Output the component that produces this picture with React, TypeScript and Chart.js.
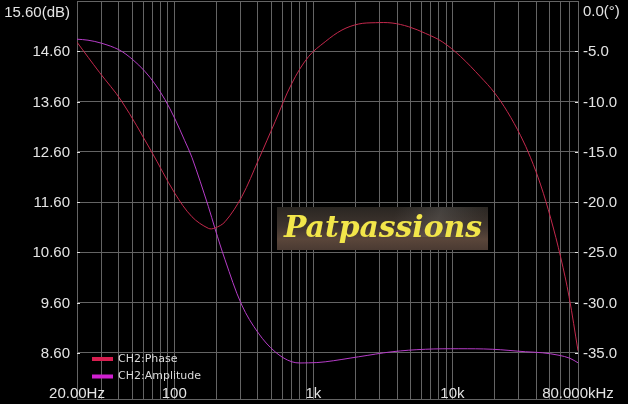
import React, { useEffect, useRef } from 'react';
import { Chart, registerables } from 'chart.js';

Chart.register(...registerables);

// ---- data ----
const ampFreq = [20, 24, 30, 40, 50, 61.5, 72.6, 85.7, 101, 119, 134, 176, 196, 232, 306, 403, 531, 701, 923, 1218, 2117, 3683, 6397, 11117, 19347, 33620, 44360, 58410, 70000, 80000];
const ampDb = [14.84, 14.82, 14.76, 14.63, 14.44, 14.2, 13.95, 13.64, 13.26, 12.82, 12.49, 11.51, 11.08, 10.45, 9.55, 8.99, 8.62, 8.42, 8.4, 8.42, 8.52, 8.62, 8.67, 8.68, 8.67, 8.62, 8.6, 8.55, 8.49, 8.4];

const phaseFreq = [20, 29, 41.8, 68.3, 101, 134, 176, 196, 232, 306, 403, 531, 701, 923, 1218, 1607, 2117, 2791, 3683, 4850, 6397, 8442, 11430, 15930, 20000, 24810, 30940, 36510, 43110, 50880, 60060, 68960, 80000];
const phaseDeg = [-4.1, -7.1, -9.95, -14.93, -19.13, -21.46, -22.62, -22.59, -21.96, -19.47, -15.82, -12.01, -8.19, -5.54, -4.05, -2.89, -2.29, -2.16, -2.19, -2.56, -3.22, -4.05, -5.51, -7.55, -9.1, -11.0, -13.4, -15.6, -18.3, -21.6, -25.5, -29.4, -34.8];

const gridFreqs = [
  20, 30, 40, 50, 60, 70, 80, 90,
  100, 200, 300, 400, 500, 600, 700, 800, 900,
  1000, 2000, 3000, 4000, 5000, 6000, 7000, 8000, 9000,
  10000, 20000, 30000, 40000, 50000, 60000, 70000, 80000,
];

const xTickValues = [20, 100, 1000, 10000, 80000];
const xTickLabels = ['20.00Hz', '100', '1k', '10k', '80.000kHz'];

const leftTickValues = [15.6, 14.6, 13.6, 12.6, 11.6, 10.6, 9.6, 8.6];
const leftTickLabels = ['15.60(dB)', '14.60', '13.60', '12.60', '11.60', '10.60', '9.60', '8.60'];

const rightTickValues = [0, -5, -10, -15, -20, -25, -30, -35];
const rightTickLabels = ['0.0(°)', '-5.0', '-10.0', '-15.0', '-20.0', '-25.0', '-30.0', '-35.0'];

const seriesNames = ['CH2:Phase', 'CH2:Amplitude'];

// ---- styles ----
const GRID = '#646464';
const TEXT = '#e4e4e4';
const PHASE_COLOR = '#c4284c';
const AMP_COLOR = '#b63cc8';
const PHASE_SWATCH = '#d81e50';
const AMP_SWATCH = '#d020d0';

const overlayPlugin = {
  id: 'overlay',
  beforeDatasetsDraw(chart: any) {
    const ctx = chart.ctx;
    ctx.save();
    // watermark box
    const bx = 277, by = 207, bw = 211, bh = 43;
    const g = ctx.createLinearGradient(0, by, 0, by + bh);
    g.addColorStop(0, '#2a2622');
    g.addColorStop(0.45, '#3e342e');
    g.addColorStop(0.75, '#5a463a');
    g.addColorStop(1, '#4a3a32');
    ctx.fillStyle = g;
    ctx.fillRect(bx, by, bw, bh);
    const g2 = ctx.createLinearGradient(bx + 120, by, bx + 200, by + 30);
    g2.addColorStop(0, 'rgba(120,120,120,0)');
    g2.addColorStop(0.5, 'rgba(140,140,140,0.25)');
    g2.addColorStop(1, 'rgba(120,120,120,0)');
    ctx.fillStyle = g2;
    ctx.fillRect(bx, by, bw, 30);
    ctx.font = 'italic bold 30px "DejaVu Serif"';
    ctx.fillStyle = '#f2e64a';
    ctx.textAlign = 'left';
    ctx.textBaseline = 'alphabetic';
    ctx.fillText('Patpassions', 284, 237, 198);
    ctx.restore();
  },
  afterDraw(chart: any) {
    const ctx = chart.ctx;
    const { left, right, bottom } = chart.chartArea;
    const xs = chart.scales.x;
    const yl = chart.scales.yL;
    const yr = chart.scales.yR;
    ctx.save();
    ctx.fillStyle = TEXT;
    ctx.strokeStyle = TEXT;
    ctx.lineWidth = 1;
    ctx.font = '15px "Liberation Sans", Arial, sans-serif';

    // left axis
    ctx.textAlign = 'right';
    leftTickValues.forEach((v, i) => {
      const y = yl.getPixelForValue(v);
      if (i === 0) {
        ctx.textBaseline = 'alphabetic';
        ctx.fillText(leftTickLabels[i], 70, 17);
      } else {
        ctx.textBaseline = 'middle';
        ctx.fillText(leftTickLabels[i], 70, y + 1);
        ctx.beginPath();
        ctx.moveTo(left, Math.round(y) + 0.5);
        ctx.lineTo(left + 3, Math.round(y) + 0.5);
        ctx.stroke();
      }
    });

    // right axis
    ctx.textAlign = 'left';
    rightTickValues.forEach((v, i) => {
      const y = yr.getPixelForValue(v);
      if (i === 0) {
        ctx.textBaseline = 'alphabetic';
        ctx.fillText(rightTickLabels[i], 583, 16);
      } else {
        ctx.textBaseline = 'middle';
        ctx.fillText(rightTickLabels[i], 583, y + 1);
        ctx.beginPath();
        ctx.moveTo(right - 3, Math.round(y) + 0.5);
        ctx.lineTo(right, Math.round(y) + 0.5);
        ctx.stroke();
      }
    });

    // x axis labels (inside plot)
    ctx.textAlign = 'center';
    ctx.textBaseline = 'alphabetic';
    xTickValues.forEach((v, i) => {
      const x = xs.getPixelForValue(v);
      ctx.fillText(xTickLabels[i], x, bottom - 1);
    });

    // legend
    ctx.font = '11px "DejaVu Sans", sans-serif';
    ctx.textAlign = 'left';
    ctx.textBaseline = 'middle';
    const swatches = [PHASE_SWATCH, AMP_SWATCH];
    seriesNames.forEach((name, i) => {
      const y = 357 + i * 17.5;
      ctx.fillStyle = swatches[i];
      ctx.fillRect(92, y, 21, 4);
      ctx.fillStyle = '#dcdcdc';
      ctx.fillText(name, 118, y + 2);
    });
    ctx.restore();
  },
};

export default function App() {
  const ref = useRef<HTMLCanvasElement | null>(null);

  useEffect(() => {
    document.body.style.margin = '0';
    document.body.style.background = '#000';
    const canvas = ref.current;
    if (!canvas) return;
    const chart = new Chart(canvas, {
      type: 'line',
      data: {
        datasets: [
          {
            label: seriesNames[0],
            data: phaseFreq.map((f, i) => ({ x: f, y: phaseDeg[i] })),
            borderColor: PHASE_COLOR,
            borderWidth: 1,
            pointRadius: 0,
            tension: 0.35,
            yAxisID: 'yR',
          },
          {
            label: seriesNames[1],
            data: ampFreq.map((f, i) => ({ x: f, y: ampDb[i] })),
            borderColor: AMP_COLOR,
            borderWidth: 1,
            pointRadius: 0,
            tension: 0.35,
            yAxisID: 'yL',
          },
        ],
      },
      options: {
        responsive: false,
        animation: false,
        devicePixelRatio: 1,
        layout: { padding: { left: 77, right: 50, top: 1, bottom: 5 } },
        plugins: { legend: { display: false }, tooltip: { enabled: false } },
        scales: {
          x: {
            type: 'logarithmic',
            min: 20,
            max: 80000,
            afterBuildTicks: (s: any) => {
              s.ticks = gridFreqs.map((v) => ({ value: v }));
            },
            ticks: { display: false },
            grid: { color: GRID, drawTicks: false, lineWidth: 1 },
            border: { display: true, color: GRID },
          },
          yL: {
            type: 'linear',
            position: 'left',
            min: 7.68,
            max: 15.6,
            afterBuildTicks: (s: any) => {
              s.ticks = leftTickValues.map((v) => ({ value: v }));
            },
            ticks: { display: false },
            grid: { color: GRID, drawTicks: false, lineWidth: 1 },
            border: { display: true, color: GRID },
          },
          yR: {
            type: 'linear',
            position: 'right',
            min: -39.6,
            max: 0,
            afterBuildTicks: (s: any) => {
              s.ticks = rightTickValues.map((v) => ({ value: v }));
            },
            ticks: { display: false },
            grid: { display: false, drawTicks: false },
            border: { display: true, color: GRID },
          },
        },
      },
      plugins: [overlayPlugin],
    } as any);
    return () => chart.destroy();
  }, []);

  return (
    <div style={{ position: 'fixed', left: 0, top: 0, width: 628, height: 404, background: '#000' }}>
      <canvas ref={ref} width={628} height={404} style={{ display: 'block', width: 628, height: 404 }} />
    </div>
  );
}
